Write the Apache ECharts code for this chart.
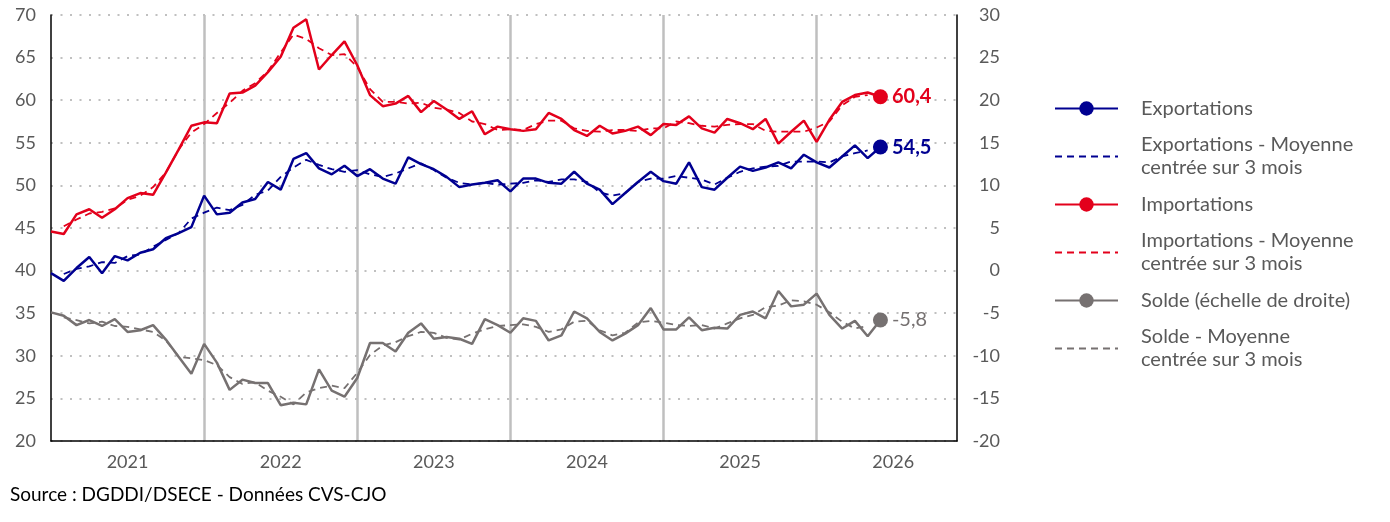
<!DOCTYPE html>
<html>
<head>
<meta charset="utf-8">
<script src="https://cdn.jsdelivr.net/npm/echarts@6/dist/echarts.min.js"></script>
<style>
html,body{margin:0;padding:0;background:#fff;}
#chart{width:1390px;height:522px;}
</style>
</head>
<body>
<div id="chart"></div>
<script>
const years = ['2021', '2022', '2023', '2024', '2025', '2026'];
const monthsPerYear = 12;

const exportations = [
  39.7, 38.8, 40.3, 41.6, 39.7, 41.7, 41.2, 42.1, 42.5, 43.8, 44.4, 45.1,
  48.8, 46.6, 46.8, 48.0, 48.4, 50.4, 49.5, 53.1, 53.8, 52.0, 51.3, 52.3,
  51.1, 51.9, 50.8, 50.2, 53.3, 52.5, 51.9, 51.0, 49.8, 50.1, 50.3, 50.6,
  49.3, 50.8, 50.8, 50.3, 50.2, 51.6, 50.2, 49.5, 47.8, 49.1, 50.4, 51.6,
  50.5, 50.2, 52.7, 49.8, 49.5, 50.9, 52.2, 51.7, 52.1, 52.7, 52.0, 53.6,
  52.7, 52.1, 53.4, 54.7, 53.2, 54.5
];
const exportationsMoy = [
  null, 39.6, 40.2, 40.5, 41.0, 40.9, 41.7, 41.9, 42.8, 43.6, 44.4, 46.1,
  46.8, 47.4, 47.1, 47.7, 48.9, 49.4, 51.0, 52.1, 53.0, 52.4, 51.9, 51.6,
  51.8, 51.3, 51.0, 51.4, 52.0, 52.6, 51.8, 50.9, 50.3, 50.1, 50.3, 50.1,
  50.2, 50.3, 50.6, 50.4, 50.7, 50.7, 50.4, 49.2, 48.8, 49.1, 50.4, 50.8,
  50.8, 51.1, 50.9, 50.7, 50.1, 50.9, 51.6, 52.0, 52.2, 52.3, 52.8, 52.8,
  52.8, 52.7, 53.4, 53.8, 54.1
];
const importations = [
  44.6, 44.3, 46.6, 47.2, 46.2, 47.2, 48.5, 49.1, 48.9, 51.5, 54.2, 57.0,
  57.4, 57.3, 60.8, 60.9, 61.7, 63.3, 65.1, 68.5, 69.5, 63.6, 65.3, 66.9,
  64.1, 60.6, 59.3, 59.6, 60.5, 58.6, 59.9, 58.9, 57.8, 58.7, 56.0, 56.9,
  56.6, 56.4, 56.6, 58.5, 57.8, 56.5, 55.8, 57.0, 56.1, 56.4, 56.9, 55.9,
  57.2, 57.1, 58.1, 56.7, 56.2, 57.8, 57.3, 56.6, 57.8, 54.9, 56.3, 57.6,
  55.1, 57.7, 59.8, 60.6, 60.9, 60.4
];
const importationsMoy = [
  null, 45.2, 46.0, 46.7, 46.9, 47.3, 48.3, 48.8, 49.8, 51.5, 54.2, 56.2,
  57.2, 58.5, 59.7, 61.1, 62.0, 63.4, 65.6, 67.7, 67.2, 66.1, 65.3, 65.4,
  63.9, 61.3, 59.8, 59.8, 59.6, 59.7, 59.1, 58.9, 58.5, 57.5, 57.2, 56.5,
  56.6, 56.5, 57.2, 57.6, 57.6, 56.7, 56.4, 56.3, 56.5, 56.5, 56.4, 56.7,
  56.7, 57.5, 57.3, 57.0, 56.9, 57.1, 57.2, 57.2, 56.4, 56.3, 56.3, 56.3,
  56.8, 57.5, 59.4, 60.4, 60.6
];
const solde = [
  -4.9, -5.3, -6.4, -5.8, -6.5, -5.7, -7.2, -7.0, -6.4, -8.1, -10.1, -12.1,
  -8.6, -10.8, -14.0, -12.8, -13.2, -13.2, -15.8, -15.5, -15.7, -11.6, -14.1, -14.8,
  -12.6, -8.5, -8.5, -9.5, -7.3, -6.2, -8.0, -7.8, -8.0, -8.6, -5.7, -6.4,
  -7.3, -5.6, -5.9, -8.2, -7.6, -4.8, -5.6, -7.2, -8.2, -7.4, -6.4, -4.4,
  -6.9, -6.9, -5.5, -7.0, -6.7, -6.8, -5.2, -4.8, -5.6, -2.4, -4.2, -4.0,
  -2.7, -5.2, -6.8, -5.9, -7.7, -5.8
];
const soldeMoy = [
  null, -5.5, -5.8, -6.2, -6.0, -6.5, -6.6, -6.9, -7.2, -8.2, -10.1, -10.3,
  -10.5, -11.1, -12.5, -13.3, -13.1, -14.1, -14.8, -15.7, -14.3, -13.8, -13.5, -13.8,
  -12.0, -9.9, -8.8, -8.4, -7.7, -7.2, -7.3, -7.9, -8.1, -7.4, -6.9, -6.5,
  -6.4, -6.3, -6.6, -7.2, -6.9, -6.0, -5.9, -7.0, -7.6, -7.3, -6.1, -5.9,
  -6.1, -6.4, -6.5, -6.4, -6.8, -6.2, -5.6, -5.2, -4.3, -4.1, -3.5, -3.6,
  -4.0, -4.9, -6.0, -6.8, -6.5
];
const leftTicks = { min: 20, max: 70, interval: 5 };
const rightTicks = { min: -20, max: 30, interval: 5 };

const names = {
  exp: 'Exportations',
  expM: 'Exportations - Moyenne\ncentrée sur 3 mois',
  imp: 'Importations',
  impM: 'Importations - Moyenne\ncentrée sur 3 mois',
  sol: 'Solde (échelle de droite)',
  solM: 'Solde - Moyenne\ncentrée sur 3 mois'
};

const colors = { exp: '#000091', imp: '#E3001B', sol: '#767171' };

const categories = [];
years.forEach(y => { for (let m = 1; m <= monthsPerYear; m++) categories.push(y + '-' + (m < 10 ? '0' + m : m)); });

function withEnd(arr, color, weight) {
  return arr.map((v, i) => i === arr.length - 1 ? {
    value: v,
    symbolSize: 15,
    label: {
      show: true, position: 'right', distance: 4,
      color: color, fontSize: 20, fontWeight: weight, fontFamily: 'Lato',
      formatter: p => String(p.value).replace('.', ',')
    }
  } : v);
}

function solid(name, data, color, yIdx, weight) {
  return {
    name: name, type: 'line', yAxisIndex: yIdx,
    data: withEnd(data, color, weight),
    symbol: 'circle', symbolSize: 0, showSymbol: true, showAllSymbol: true,
    lineStyle: { color: color, width: 2.5 },
    itemStyle: { color: color },
    z: 5
  };
}
function dashed(name, data, color, yIdx) {
  return {
    name: name, type: 'line', yAxisIndex: yIdx, data: data,
    symbol: 'none', showSymbol: false,
    lineStyle: { color: color, width: 1.8, type: [7, 5] },
    itemStyle: { color: color },
    z: 3
  };
}

const chart = echarts.init(document.getElementById('chart'));
chart.setOption({
  animation: false,
  backgroundColor: '#fff',
  textStyle: { fontFamily: 'Lato' },
  grid: { left: 51, right: 433, top: 15, bottom: 81, containLabel: false },
  legend: {
    orient: 'vertical', left: 1054, top: 97, padding: 0,
    itemWidth: 63, itemHeight: 18, itemGap: 13.5,
    textStyle: { color: '#595959', fontSize: 20, lineHeight: 23, fontFamily: 'Lato', padding: [0, 0, 0, 18] },
    data: [
      { name: names.exp },
      { name: names.expM, itemStyle: { opacity: 0 } },
      { name: names.imp },
      { name: names.impM, itemStyle: { opacity: 0 } },
      { name: names.sol },
      { name: names.solM, itemStyle: { opacity: 0 } }
    ]
  },
  xAxis: {
    type: 'category', data: categories, boundaryGap: false,
    axisLine: { onZero: false, lineStyle: { color: '#000', width: 1.5 } },
    axisTick: { show: false },
    axisLabel: {
      interval: idx => idx % 12 === 6,
      formatter: v => v.slice(0, 4),
      color: '#595959', fontSize: 18, margin: 12
    },
    splitLine: {
      show: true,
      interval: idx => idx % 12 === 0 && idx > 0,
      lineStyle: { color: '#bfbfbf', width: 2.5 }
    }
  },
  yAxis: [
    {
      type: 'value', min: leftTicks.min, max: leftTicks.max, interval: leftTicks.interval,
      axisLine: { show: true, onZero: false, lineStyle: { color: '#000', width: 1.5 } },
      axisTick: { show: false },
      axisLabel: { color: '#595959', fontSize: 18, margin: 15 },
      splitLine: { show: true, lineStyle: { color: '#c0c0c0', width: 2, type: [2, 7.5] } }
    },
    {
      type: 'value', min: rightTicks.min, max: rightTicks.max, interval: rightTicks.interval,
      position: 'right',
      axisLine: { show: true, onZero: false, lineStyle: { color: '#000', width: 1.5 } },
      axisTick: { show: false },
      axisLabel: { color: '#595959', fontSize: 18, margin: 43, align: 'right' },
      splitLine: { show: false }
    }
  ],
  series: [
    dashed(names.expM, exportationsMoy, colors.exp, 0),
    dashed(names.impM, importationsMoy, colors.imp, 0),
    dashed(names.solM, soldeMoy, colors.sol, 1),
    solid(names.exp, exportations, colors.exp, 0, 'bold'),
    solid(names.imp, importations, colors.imp, 0, 'bold'),
    solid(names.sol, solde, colors.sol, 1, 'normal')
  ],
  graphic: [{
    type: 'text', left: 10, top: 485,
    style: { text: 'Source : DGDDI/DSECE - Données CVS-CJO', fill: '#000', fontSize: 19, fontFamily: 'Lato' }
  }]
});
</script>
</body>
</html>
